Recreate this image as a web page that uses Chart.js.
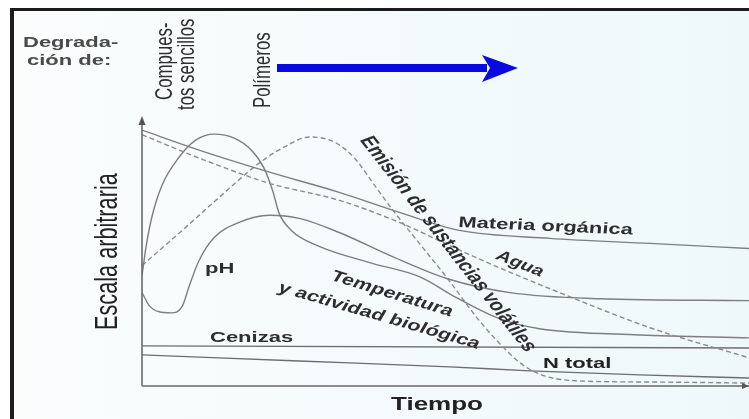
<!DOCTYPE html>
<html>
<head>
<meta charset="utf-8">
<script src="https://cdn.jsdelivr.net/npm/chart.js@4.4.1/dist/chart.umd.min.js"></script>
<style>
  html, body { margin: 0; padding: 0; background: #fff; overflow: hidden; }
  #wrap { width: 749px; height: 419px; }
</style>
</head>
<body>
<div id="wrap"><canvas id="chart" width="749" height="419"></canvas></div>
<script>
// Tiempo (arbitrary units 0-100) and "escala arbitraria" (0-100) for each curve
const tMateria = [0, 9.4, 21.0, 32.5, 42.4, 52.3, 67.2, 83.7, 100];
const materiaOrganica = [96.2, 88.7, 80.4, 72.8, 65.3, 58.5, 55.5, 53.6, 51.7];

const tAgua = [0, 9.4, 21.0, 32.5, 42.4, 50.7, 57.3, 68.8, 83.7, 100];
const agua = [94.5, 85.7, 76.2, 69.8, 61.5, 52.8, 46.0, 35.1, 21.9, 10.6];

const tPH = [0, 1.2, 2.8, 4.8, 6.6, 7.8, 9.4, 11.9, 16.0, 21.0, 25.9, 32.5, 40.8, 50.2, 60.6, 75.4, 100];
const ph = [35.1, 30.2, 27.9, 27.5, 29.8, 37.7, 47.2, 55.8, 61.5, 64.2, 63.0, 57.7, 49.1, 40.4, 35.1, 32.8, 32.1];

const tTemp = [0, 0.7, 1.7, 3.3, 6.1, 8.9, 11.9, 15.2, 18.0, 20.1, 21.5, 22.6, 24.6, 29.2, 37.5, 45.7, 51.8, 58.9, 65.5, 82.0, 100];
const temperatura = [41.5, 52.8, 64.2, 75.5, 86.0, 92.5, 94.7, 93.2, 88.7, 81.9, 73.6, 64.9, 58.5, 52.5, 46.4, 41.1, 33.2, 25.3, 21.5, 19.2, 18.1];

const tVolatiles = [0, 6.1, 12.7, 19.3, 23.4, 27.6, 31.7, 35.0, 38.3, 41.6, 45.7, 50.2, 55.6, 60.1, 63.0, 66.3, 72.1, 83.7, 100];
const volatiles = [45.3, 57.4, 70.9, 83.8, 89.8, 93.6, 91.7, 85.7, 75.5, 65.3, 53.6, 40.8, 24.5, 13.2, 7.5, 3.8, 1.9, 1.5, 1.1];

const tCenizas = [0, 100];
const cenizas = [15.1, 14.3];

const tNTotal = [0, 25.9, 50.7, 63.9, 82.0, 100];
const nTotal = [11.7, 9.4, 7.2, 5.7, 4.2, 3.0];

const pts = (xs, ys) => xs.map((x, i) => ({ x: x, y: ys[i] }));

// the scanned figure is squashed vertically, text gets the same treatment
const K = 0.7;
const FONT = '"Liberation Sans", Arial, sans-serif';

function drawLabel(ctx, text, x, y, size, angle, o) {
    o = o || {};
    ctx.save();
    ctx.translate(x, y);
    ctx.scale(1, K);
    let a = angle * Math.PI / 180;
    ctx.rotate(Math.atan2(Math.sin(a) / K, Math.cos(a)));
    ctx.font = (o.bold ? 'bold ' : '') + size + 'px ' + FONT;
    ctx.fillStyle = o.color || '#2e2e2e';
    ctx.textAlign = o.align || 'left';
    ctx.textBaseline = o.baseline || 'alphabetic';
    ctx.fillText(text, 0, 0);
    ctx.restore();
}

const decor = {
    id: 'decor',
    beforeDraw(chart) {
        let ctx = chart.ctx;
        ctx.save();
        let g = ctx.createLinearGradient(0, 0, 749, 0);
        g.addColorStop(0, '#fbfdfd');
        g.addColorStop(1, '#eef8fa');
        ctx.fillStyle = g;
        ctx.fillRect(10, 8, 739, 411);
        // frame
        ctx.fillStyle = '#1c1c1c';
        ctx.fillRect(10, 8, 4, 411);
        ctx.fillRect(10, 8, 739, 3);
        ctx.restore();
    },
    afterDraw(chart) {
        let ctx = chart.ctx;
        let a = chart.chartArea;
        ctx.save();
        // axes
        ctx.strokeStyle = '#6a6a6a';
        ctx.lineWidth = 1.6;
        ctx.beginPath();
        ctx.moveTo(a.left, a.bottom);
        ctx.lineTo(a.left, a.top);
        ctx.moveTo(a.left, a.bottom);
        ctx.lineTo(a.right, a.bottom);
        ctx.stroke();
        ctx.fillStyle = '#555';
        ctx.beginPath();
        ctx.moveTo(a.left, a.top - 4);
        ctx.lineTo(a.left - 3.5, a.top + 5);
        ctx.lineTo(a.left + 3.5, a.top + 5);
        ctx.closePath();
        ctx.fill();
        ctx.beginPath();
        ctx.moveTo(a.right, a.bottom);
        ctx.lineTo(a.right - 7, a.bottom - 3);
        ctx.lineTo(a.right - 7, a.bottom + 3);
        ctx.closePath();
        ctx.fill();

        // blue arrow
        ctx.fillStyle = '#0a0ae0';
        ctx.fillRect(277, 64, 210, 8);
        ctx.beginPath();
        ctx.moveTo(482, 55);
        ctx.lineTo(518, 68);
        ctx.lineTo(482, 82);
        ctx.lineTo(490, 68);
        ctx.closePath();
        ctx.fill();
        ctx.restore();

        // texts
        drawLabel(ctx, 'Degrada-', 23, 47, 22, 0, { bold: true, color: '#4a4a4a' });
        drawLabel(ctx, 'ción de:', 27, 65, 22, 0, { bold: true, color: '#4a4a4a' });
        drawLabel(ctx, 'Compues-', 165, 100, 24, -90, { baseline: 'middle' });
        drawLabel(ctx, 'tos sencillos', 187, 110, 24, -90, { baseline: 'middle' });
        drawLabel(ctx, 'Polímeros', 263, 108, 24, -90, { baseline: 'middle' });
        drawLabel(ctx, 'Escala arbitraria', 108, 330, 31, -90, { baseline: 'middle', color: '#222' });
        drawLabel(ctx, 'Tiempo', 437, 410, 26, 0, { bold: true, align: 'center', color: '#222' });
        drawLabel(ctx, 'pH', 205, 273, 22, 0, { bold: true });
        drawLabel(ctx, 'Cenizas', 210, 342, 22, 0, { bold: true });
        drawLabel(ctx, 'N total', 543, 368, 22, 0, { bold: true, color: '#222' });
        drawLabel(ctx, 'Materia orgánica', 458, 227, 22, 2.5, { bold: true });
        drawLabel(ctx, 'Agua', 520, 264, 21, 22, { bold: true, align: 'center', baseline: 'middle' });
        drawLabel(ctx, 'Temperatura', 392, 294, 22, 17, { bold: true, align: 'center', baseline: 'middle' });
        drawLabel(ctx, 'y actividad biológica', 379, 316, 22, 16, { bold: true, align: 'center', baseline: 'middle' });
        drawLabel(ctx, 'Emisión de sustancias volátiles', 448, 244, 23, 52, { bold: true, align: 'center', baseline: 'middle' });
    }
};

function serie(label, xs, ys, color, dash) {
    return {
        label: label,
        data: pts(xs, ys),
        borderColor: color,
        borderWidth: 1.4,
        borderDash: dash || [],
        pointRadius: 0,
        fill: false,
        cubicInterpolationMode: 'monotone'
    };
}

let ctx = document.getElementById('chart');

new Chart(ctx, {
    type: 'line',
    data: {
        datasets: [
            serie('Materia orgánica', tMateria, materiaOrganica, '#7e7e7e'),
            serie('Agua', tAgua, agua, '#8c8c8c', [5, 3]),
            serie('pH', tPH, ph, '#7e7e7e'),
            serie('Temperatura y actividad biológica', tTemp, temperatura, '#7e7e7e'),
            serie('Emisión de sustancias volátiles', tVolatiles, volatiles, '#8c8c8c', [5, 3]),
            serie('Cenizas', tCenizas, cenizas, '#6e6e6e'),
            serie('N total', tNTotal, nTotal, '#6e6e6e')
        ]
    },
    options: {
        responsive: false,
        animation: false,
        devicePixelRatio: 1,
        layout: { padding: { left: 142, top: 120, right: 0, bottom: 33 } },
        scales: {
            x: { type: 'linear', min: 0, max: 100, display: false },
            y: { min: 0, max: 100, display: false }
        },
        plugins: {
            legend: { display: false },
            tooltip: { enabled: false }
        }
    },
    plugins: [decor]
});
</script>
</body>
</html>
